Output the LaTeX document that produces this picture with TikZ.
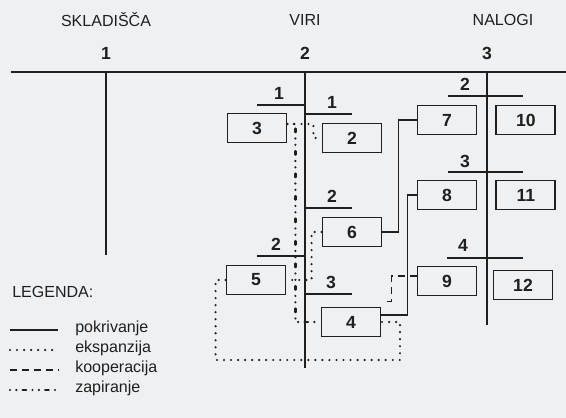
\documentclass[tikz,border=0pt]{standalone}
\usepackage{fontspec}
\setmainfont{Liberation Sans}
\usetikzlibrary{positioning, calc}
\definecolor{crta}{HTML}{1F1F1F}
\definecolor{ozadje}{HTML}{EEF0F2}

\begin{document}
\begin{tikzpicture}[x=0.25mm, y=-0.25mm,
        deblo/.style={draw=crta, line width=1.7pt},
        veja/.style={draw=crta, line width=1.3pt},
        blok/.style={draw=crta, line width=1.3pt, minimum width=14.75mm, minimum height=7.25mm,
            inner sep=0pt, text=crta, font=\fontsize{12.5}{14}\selectfont\bfseries},
        stevilka/.style={inner sep=0pt, text=crta, font=\fontsize{12.5}{14}\selectfont\bfseries},
        naslov/.style={inner sep=0pt, text=crta, font=\fontsize{11.4}{13}\selectfont},
        pokr/.style={draw=crta, line width=1pt},
        eksp/.style={draw=crta, line width=1.7pt, line cap=round, dash pattern=on 0pt off 5pt},
        koop/.style={draw=crta, line width=1.1pt, dash pattern=on 5pt off 3.5pt},
        zapi/.style={draw=crta, line width=1.7pt, line cap=round,
            dash pattern=on 0pt off 4.5pt on 0pt off 4.5pt on 2.5pt off 4.5pt}
    ]
        \fill[ozadje] (0,0) rectangle (566,418);
        \useasboundingbox (0,0) rectangle (566,418);

        % glave stolpcev
        \node[naslov] (skladisca) at (106,20) {SKLADIŠČA};
        \node[naslov] (viri) at (305,20) {VIRI};
        \node[naslov] (nalogi) at (503,20) {NALOGI};
        \node[stevilka] (st1) at (106,53) {1};
        \node[stevilka] (st2) at (305,53) {2};
        \node[stevilka] (st3) at (487,53) {3};

        \coordinate (zacetek) at (11,72);
        \coordinate (konec) at (566,72);
        \draw[deblo] (zacetek) -- (konec);
        \draw[deblo] (106,72) -- (106,255);
        \draw[deblo] (305,72) -- (305,368);
        \draw[deblo] (487,72) -- (487,325);

        % veje pri virih
        \draw[veja] (257,105) -- (305,105);
        \node[stevilka] (v1l) at (279,93) {1};
        \draw[veja] (305,114) -- (352,114);
        \node[stevilka] (v1d) at (332,102) {1};
        \draw[veja] (305,208) -- (352,208);
        \node[stevilka] (v2d) at (332,196) {2};
        \draw[veja] (257,256) -- (305,256);
        \node[stevilka] (v2l) at (276,244) {2};
        \draw[veja] (305,294) -- (352,294);
        \node[stevilka] (v3d) at (331,282) {3};

        % veje pri nalogah
        \draw[veja] (448,96) -- (523,96);
        \node[stevilka] (n2) at (465,84) {2};
        \draw[veja] (448,172) -- (523,172);
        \node[stevilka] (n3) at (465,161) {3};
        \draw[veja] (447,258) -- (523,258);
        \node[stevilka] (n4) at (463,245) {4};

        \node[blok] (b3) at (257,128) {3};
        \node[blok] (b2) at (352,138) {2};
        \node[blok] (b6) at (352,232) {6};
        \node[blok] (b5) at (256,280) {5};
        \node[blok] (b4) at (351,322) {4};
        \node[blok] (b7) at (447,120) {7};
        \node[blok, right=4.5mm of b7] (b10) {10};
        \node[blok] (b8) at (447,195) {8};
        \node[blok, right=4.5mm of b8] (b11) {11};
        \node[blok] (b9) at (447,281) {9};
        \node[blok] (b12) at (523,285) {12};

        \coordinate (dno) at (400,360);

        \draw[pokr] (b6.east) -- ++(16,0) |- (b7.west);
        \draw[pokr] (b8.west) -- ++(-9,0) |- ($(b4.east)+(0,-7)$);
        \draw[koop] ($(b9.west)+(0,-5)$) -- ++(-25,0) |- ($(b4.north east)+(2,-5)$);
        \draw[eksp] (b5.west) -- ++(-10,0) |- (dno) |- (b4.east);
        \draw[eksp] ($(b3.east)+(0,-4)$) -- ++(26,0) |- (b2.west);
        \draw[eksp] (b6.west) -- ++(-10,0) |- (b5.east);
        \draw[zapi] ($(b3.east)+(0,-4)$) -- ++(8,0) |- (b4.west);

        % legenda
        \node[naslov, anchor=west] (legenda) at (12,292) {LEGENDA:};
        \draw[pokr] (10,330) -- (58,330);
        \node[naslov, anchor=west] (lpokr) at (75,328) {pokrivanje};
        \draw[eksp] (10,350) -- (58,350);
        \node[naslov, anchor=west] (leksp) at (75,348) {ekspanzija};
        \draw[koop] (10,370) -- (58,370);
        \node[naslov, anchor=west] (lkoop) at (75,368) {kooperacija};
        \draw[zapi] (10,390) -- (58,390);
        \node[naslov, anchor=west] (lzapi) at (75,388) {zapiranje};
    \end{tikzpicture}
\end{document}
